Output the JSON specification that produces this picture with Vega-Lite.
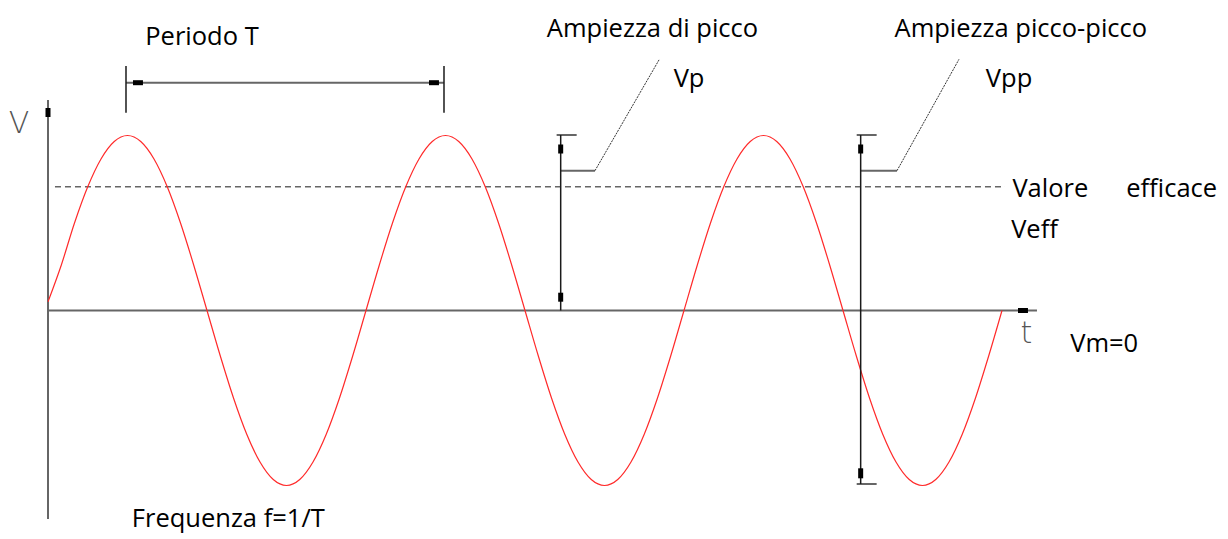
{
  "$schema": "https://vega.github.io/schema/vega-lite/v6.json",
  "width": 1228,
  "height": 539,
  "autosize": {"type": "fit", "contains": "padding"},
  "padding": 0,
  "background": "white",
  "config": {"view": {"stroke": null}},
  "datasets": {
    "wave": [
      {"deg": 0, "v": 0.05}, {"deg": 15, "v": 0.2588}, {"deg": 30, "v": 0.5}, {"deg": 45, "v": 0.7071}, {"deg": 60, "v": 0.866}, {"deg": 75, "v": 0.9659},
      {"deg": 90, "v": 1}, {"deg": 105, "v": 0.9659}, {"deg": 120, "v": 0.866}, {"deg": 135, "v": 0.7071}, {"deg": 150, "v": 0.5}, {"deg": 165, "v": 0.2588},
      {"deg": 180, "v": 0}, {"deg": 195, "v": -0.2588}, {"deg": 210, "v": -0.5}, {"deg": 225, "v": -0.7071}, {"deg": 240, "v": -0.866}, {"deg": 255, "v": -0.9659},
      {"deg": 270, "v": -1}, {"deg": 285, "v": -0.9659}, {"deg": 300, "v": -0.866}, {"deg": 315, "v": -0.7071}, {"deg": 330, "v": -0.5}, {"deg": 345, "v": -0.2588},
      {"deg": 360, "v": 0}, {"deg": 375, "v": 0.2588}, {"deg": 390, "v": 0.5}, {"deg": 405, "v": 0.7071}, {"deg": 420, "v": 0.866}, {"deg": 435, "v": 0.9659},
      {"deg": 450, "v": 1}, {"deg": 465, "v": 0.9659}, {"deg": 480, "v": 0.866}, {"deg": 495, "v": 0.7071}, {"deg": 510, "v": 0.5}, {"deg": 525, "v": 0.2588},
      {"deg": 540, "v": 0}, {"deg": 555, "v": -0.2588}, {"deg": 570, "v": -0.5}, {"deg": 585, "v": -0.7071}, {"deg": 600, "v": -0.866}, {"deg": 615, "v": -0.9659},
      {"deg": 630, "v": -1}, {"deg": 645, "v": -0.9659}, {"deg": 660, "v": -0.866}, {"deg": 675, "v": -0.7071}, {"deg": 690, "v": -0.5}, {"deg": 705, "v": -0.2588},
      {"deg": 720, "v": 0}, {"deg": 735, "v": 0.2588}, {"deg": 750, "v": 0.5}, {"deg": 765, "v": 0.7071}, {"deg": 780, "v": 0.866}, {"deg": 795, "v": 0.9659},
      {"deg": 810, "v": 1}, {"deg": 825, "v": 0.9659}, {"deg": 840, "v": 0.866}, {"deg": 855, "v": 0.7071}, {"deg": 870, "v": 0.5}, {"deg": 885, "v": 0.2588},
      {"deg": 900, "v": 0}, {"deg": 915, "v": -0.2588}, {"deg": 930, "v": -0.5}, {"deg": 945, "v": -0.7071}, {"deg": 960, "v": -0.866}, {"deg": 975, "v": -0.9659},
      {"deg": 990, "v": -1}, {"deg": 1005, "v": -0.9659}, {"deg": 1020, "v": -0.866}, {"deg": 1035, "v": -0.7071}, {"deg": 1050, "v": -0.5}, {"deg": 1065, "v": -0.2588},
      {"deg": 1080, "v": 0}
    ],
    "axes": [
      {"deg": 0, "v": 1.2029, "deg2": 0, "v2": -1.1914},
      {"deg": 0, "v": 0, "deg2": 1119.6, "v2": 0}
    ],
    "dash": [
      {"deg": 7.9, "v": 0.7071, "deg2": 1083.4, "v2": 0.7071}
    ],
    "greyLines": [
      {"deg": 88.3, "v": 1.3017, "deg2": 448.3, "v2": 1.3017},
      {"deg": 575.8, "v": 1.0029, "deg2": 598.5, "v2": 1.0029},
      {"deg": 915.5, "v": 1.0029, "deg2": 938.1, "v2": 1.0029},
      {"deg": 915.5, "v": -0.9914, "deg2": 938.1, "v2": -0.9914},
      {"deg": 580.4, "v": 0.7989, "deg2": 619.2, "v2": 0.7989},
      {"deg": 920.0, "v": 0.7989, "deg2": 961.1, "v2": 0.7989}
    ],
    "blackLines": [
      {"deg": 88.3, "v": 1.3971, "deg2": 88.3, "v2": 1.1303},
      {"deg": 448.3, "v": 1.3971, "deg2": 448.3, "v2": 1.1303},
      {"deg": 580.4, "v": 1.0029, "deg2": 580.4, "v2": 0},
      {"deg": 920.0, "v": 1.0029, "deg2": 920.0, "v2": -0.9914}
    ],
    "diag": [
      {"deg": 619.2, "v": 0.7989, "deg2": 692.1, "v2": 1.4354},
      {"deg": 961.1, "v": 0.7989, "deg2": 1031.3, "v2": 1.4354}
    ],
    "blobs": [
      {"deg": 96.2, "v": 1.3017, "deg2": 107.5, "v2": 1.3017},
      {"deg": 431.3, "v": 1.3017, "deg2": 442.6, "v2": 1.3017},
      {"deg": 0, "v": 1.157, "deg2": 0, "v2": 1.1057},
      {"deg": 1098.1, "v": 0, "deg2": 1109.4, "v2": 0},
      {"deg": 580.4, "v": 0.9486, "deg2": 580.4, "v2": 0.8971},
      {"deg": 580.4, "v": 0.1017, "deg2": 580.4, "v2": 0.0503},
      {"deg": 920.0, "v": 0.9486, "deg2": 920.0, "v2": 0.8971},
      {"deg": 920.0, "v": -0.9017, "deg2": 920.0, "v2": -0.9589}
    ],
    "labels": [
      {"deg": 174.3, "v": 1.5171, "label": "Periodo T"},
      {"deg": 684.3, "v": 1.5646, "label": "Ampiezza di picco"},
      {"deg": 725.7, "v": 1.2789, "label": "Vp"},
      {"deg": 1101.3, "v": 1.5646, "label": "Ampiezza picco-picco"},
      {"deg": 1088.0, "v": 1.2789, "label": "Vpp"},
      {"deg": 1134.7, "v": 0.6503, "label": "Valore"},
      {"deg": 1272.1, "v": 0.6503, "label": "efficace"},
      {"deg": 1116.8, "v": 0.4126, "label": "Veff"},
      {"deg": 1195.7, "v": -0.2354, "label": "Vm=0"},
      {"deg": 204.1, "v": -1.2389, "label": "Frequenza f=1/T"}
    ],
    "axisLabels": [
      {"deg": -32.8, "v": 1.016, "label": "V"},
      {"deg": 1107.7, "v": -0.1874, "label": "t"}
    ]
  },
  "layer": [
    {
      "data": {"name": "dash"},
      "mark": {"type": "rule", "stroke": "#666666", "strokeWidth": 1.5, "strokeDash": [6, 4]},
      "encoding": {
        "x": {"field": "deg", "type": "quantitative", "scale": {"domain": [-54.34, 1335.85], "nice": false, "zero": false}, "axis": null},
        "y": {"field": "v", "type": "quantitative", "scale": {"domain": [-1.30571, 1.77429], "nice": false, "zero": false}, "axis": null},
        "x2": {"field": "deg2"},
        "y2": {"field": "v2"}
      }
    },
    {
      "data": {"name": "axes"},
      "mark": {"type": "rule", "stroke": "#666666", "strokeWidth": 2},
      "encoding": {
        "x": {"field": "deg", "type": "quantitative", "axis": null},
        "y": {"field": "v", "type": "quantitative", "axis": null},
        "x2": {"field": "deg2"},
        "y2": {"field": "v2"}
      }
    },
    {
      "data": {"name": "wave"},
      "mark": {"type": "line", "stroke": "#ff2a2a", "strokeWidth": 1.2, "interpolate": "monotone"},
      "encoding": {
        "x": {"field": "deg", "type": "quantitative", "axis": null},
        "y": {"field": "v", "type": "quantitative", "axis": null}
      }
    },
    {
      "data": {"name": "greyLines"},
      "mark": {"type": "rule", "stroke": "#666666", "strokeWidth": 2},
      "encoding": {
        "x": {"field": "deg", "type": "quantitative", "axis": null},
        "y": {"field": "v", "type": "quantitative", "axis": null},
        "x2": {"field": "deg2"},
        "y2": {"field": "v2"}
      }
    },
    {
      "data": {"name": "blackLines"},
      "mark": {"type": "rule", "stroke": "#1a1a1a", "strokeWidth": 1.5},
      "encoding": {
        "x": {"field": "deg", "type": "quantitative", "axis": null},
        "y": {"field": "v", "type": "quantitative", "axis": null},
        "x2": {"field": "deg2"},
        "y2": {"field": "v2"}
      }
    },
    {
      "data": {"name": "diag"},
      "mark": {"type": "rule", "stroke": "#333333", "strokeWidth": 1, "strokeDash": [2, 1]},
      "encoding": {
        "x": {"field": "deg", "type": "quantitative", "axis": null},
        "y": {"field": "v", "type": "quantitative", "axis": null},
        "x2": {"field": "deg2"},
        "y2": {"field": "v2"}
      }
    },
    {
      "data": {"name": "blobs"},
      "mark": {"type": "rule", "stroke": "#000000", "strokeWidth": 5},
      "encoding": {
        "x": {"field": "deg", "type": "quantitative", "axis": null},
        "y": {"field": "v", "type": "quantitative", "axis": null},
        "x2": {"field": "deg2"},
        "y2": {"field": "v2"}
      }
    },
    {
      "data": {"name": "labels"},
      "mark": {"type": "text", "font": "Open Sans", "fontSize": 25.5, "color": "#000000", "align": "center", "baseline": "alphabetic"},
      "encoding": {
        "x": {"field": "deg", "type": "quantitative", "axis": null},
        "y": {"field": "v", "type": "quantitative", "axis": null},
        "text": {"field": "label"}
      }
    },
    {
      "data": {"name": "axisLabels"},
      "mark": {"type": "text", "font": "DejaVu Sans", "fontSize": 30, "fontWeight": 200, "color": "#555555", "align": "center", "baseline": "alphabetic"},
      "encoding": {
        "x": {"field": "deg", "type": "quantitative", "axis": null},
        "y": {"field": "v", "type": "quantitative", "axis": null},
        "text": {"field": "label"}
      }
    }
  ]
}
